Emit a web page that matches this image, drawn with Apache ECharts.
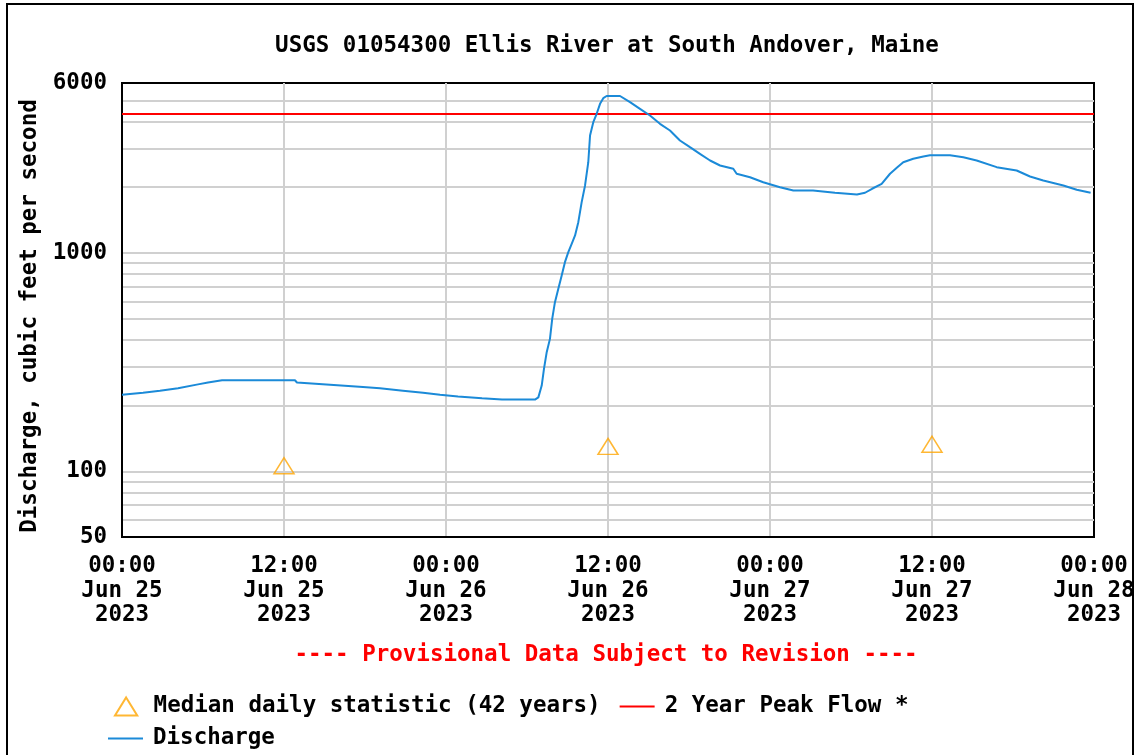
<!DOCTYPE html>
<html>
<head>
<meta charset="utf-8">
<script src="https://cdn.jsdelivr.net/npm/echarts@6/dist/echarts.min.js"></script>
<style>
html, body { margin: 0; padding: 0; background: #fff; }
#main { width: 1135px; height: 755px; }
</style>
</head>
<body>
<div id="main"></div>
<script>
var FONT = 'DejaVu Sans Mono';

// x axis: hours since Jun 25 2023 00:00
var xTickLabels = [
	'00:00\nJun 25\n2023', '12:00\nJun 25\n2023', '00:00\nJun 26\n2023',
	'12:00\nJun 26\n2023', '00:00\nJun 27\n2023', '12:00\nJun 27\n2023',
	'00:00\nJun 28\n2023'
];
var yLabelValues = [50, 100, 1000, 6000];
var yGridValues = [60, 70, 80, 90, 100, 200, 300, 400, 500, 600, 700, 800, 900,
	1000, 2000, 3000, 4000, 5000];

// discharge, cubic feet per second
var dischargeHours = [0, 1.56, 2.81, 4.15, 5.63, 6.37, 7.41, 12.81, 12.96, 15.41,
	17.85, 19.11, 20.81, 22.3, 23.56, 24.89, 26.67, 28.15, 30.59, 30.84,
	31.09, 31.26, 31.46, 31.7, 31.87, 32.07, 32.32, 32.57, 32.81, 33.06,
	33.31, 33.56, 33.8, 34.05, 34.3, 34.54, 34.67, 34.91, 35.16, 35.41,
	35.65, 35.9, 36.89, 37.63, 38.37, 39.11, 39.85, 40.59, 41.33, 42.07,
	42.81, 43.56, 44.3, 45.28, 45.53, 46.52, 47.5, 48.74, 49.73, 51.19,
	52.81, 54.44, 55.04, 55.56, 56.27, 56.89, 57.39, 57.87, 58.61, 59.36,
	59.85, 61.33, 62.32, 63.31, 64.79, 66.27, 67.26, 68.24, 69.73, 70.72, 71.75];
var dischargeCfs = [224, 229, 234, 240, 250, 255, 261, 261, 255, 249,
	243, 240, 234, 229, 224, 220, 216, 213, 213, 218,
	247, 295, 351, 404, 500, 595, 685, 788, 907, 1008,
	1101, 1202, 1383, 1708, 2037, 2603, 3451, 3968, 4336, 4818,
	5112, 5232, 5232, 4900, 4571, 4259, 3902, 3636, 3272, 3049,
	2844, 2650, 2514, 2428, 2304, 2222, 2108, 2000, 1932, 1932,
	1886, 1852, 1886, 1967, 2073, 2304, 2454, 2603, 2698, 2764,
	2802, 2802, 2744, 2650, 2470, 2385, 2239, 2146, 2037, 1946, 1886];

var medianHours = [12, 36, 60];
var medianCfs = [106, 130, 133];
var peakFlow2yr = 4330;

var dischargeData = dischargeHours.map(function (h, i) { return [h, dischargeCfs[i]]; });
var medianData = medianHours.map(function (h, i) { return [h, medianCfs[i]]; });
var peakData = [[0, peakFlow2yr], [72, peakFlow2yr]];

var myChart = echarts.init(document.getElementById('main'));

var txt = { fontFamily: FONT, fontWeight: 'bold', fontSize: 22.5, color: '#000' };
// legend icons
var lineIcon = 'path://M0,0H35V2H0Z';
var triIcon = 'path://M10.5,0L21,17H0Z';
var legendText = { fontFamily: FONT, fontWeight: 'bold', fontSize: 22.5, color: '#000', padding: [0, 0, 0, 5] };

var option = {
	backgroundColor: '#fff',
	animation: false,
	title: [{
		text: 'USGS 01054300 Ellis River at South Andover, Maine',
		left: 607, top: 35, textAlign: 'center', padding: 0,
		textStyle: txt
	}, {
		text: '---- Provisional Data Subject to Revision ----',
		left: 606, top: 644, textAlign: 'center', padding: 0,
		textStyle: { fontFamily: FONT, fontWeight: 'bold', fontSize: 22.5, color: '#ff0000' }
	}],
	graphic: [{
		type: 'rect', silent: true,
		shape: { x: 7, y: 4, width: 1126, height: 770 },
		style: { fill: 'none', stroke: '#000', lineWidth: 2 }
	}],
	legend: [{
		left: 114, top: 695,
		orient: 'horizontal',
		itemWidth: 35, itemHeight: 18, itemGap: 19,
		symbolKeepAspect: true,
		padding: 0,
		textStyle: legendText,
		data: [
			{ name: 'Median daily statistic (42 years)', icon: triIcon },
			{ name: '2 Year Peak Flow *', icon: lineIcon }
		]
	}, {
		left: 108, top: 727,
		orient: 'horizontal',
		itemWidth: 35, itemHeight: 18,
		symbolKeepAspect: true,
		padding: 0,
		textStyle: legendText,
		data: [{ name: 'Discharge', icon: lineIcon }]
	}],
	grid: {
		left: 122, right: 41, top: 83, bottom: 218,
		show: true, borderColor: '#000', borderWidth: 2, backgroundColor: '#fff',
		outerBoundsMode: 'none'
	},
	xAxis: {
		type: 'value', min: 0, max: 72, interval: 12,
		axisLine: { show: true, lineStyle: { color: '#000', width: 2 } },
		axisTick: { show: false },
		axisLabel: {
			margin: 17, lineHeight: 24.5,
			fontFamily: FONT, fontWeight: 'bold', fontSize: 22.5, color: '#000',
			formatter: function (v) { return xTickLabels[Math.round(v / 12)]; }
		},
		splitLine: { show: true, showMinLine: false, showMaxLine: false, lineStyle: { color: '#d0d0d0', width: 2 } }
	},
	yAxis: {
		type: 'log', logBase: 10, min: 50, max: 6000,
		name: 'Discharge, cubic feet per second',
		nameLocation: 'middle', nameGap: 70, nameRotate: 90,
		nameTextStyle: { fontFamily: FONT, fontWeight: 'bold', fontSize: 22.5, color: '#000', padding: [0, 12, 0, 0] },
		axisLine: { show: true, lineStyle: { color: '#000', width: 2 } },
		axisTick: { show: false, customValues: yGridValues },
		axisLabel: {
			customValues: yLabelValues, margin: 15,
			fontFamily: FONT, fontWeight: 'bold', fontSize: 22.5, color: '#000',
			formatter: function (v) { return String(Math.round(v)); }
		},
		splitLine: { show: true, lineStyle: { color: '#d0d0d0', width: 2 } }
	},
	series: [{
		name: 'Median daily statistic (42 years)',
		type: 'scatter',
		data: medianData,
		symbol: 'triangle', symbolSize: [20, 16],
		itemStyle: { color: 'rgba(255,255,255,0)', borderColor: '#ffa500', borderWidth: 1.5 },
		z: 4
	}, {
		name: '2 Year Peak Flow *',
		type: 'line',
		data: peakData,
		symbol: 'none',
		lineStyle: { color: '#ff0000', width: 2 },
		itemStyle: { color: '#ff0000' },
		z: 3
	}, {
		name: 'Discharge',
		type: 'line',
		data: dischargeData,
		symbol: 'none',
		lineStyle: { color: '#1b8ad8', width: 2 },
		itemStyle: { color: '#1b8ad8' },
		z: 5
	}]
};

myChart.setOption(option);
</script>
</body>
</html>
